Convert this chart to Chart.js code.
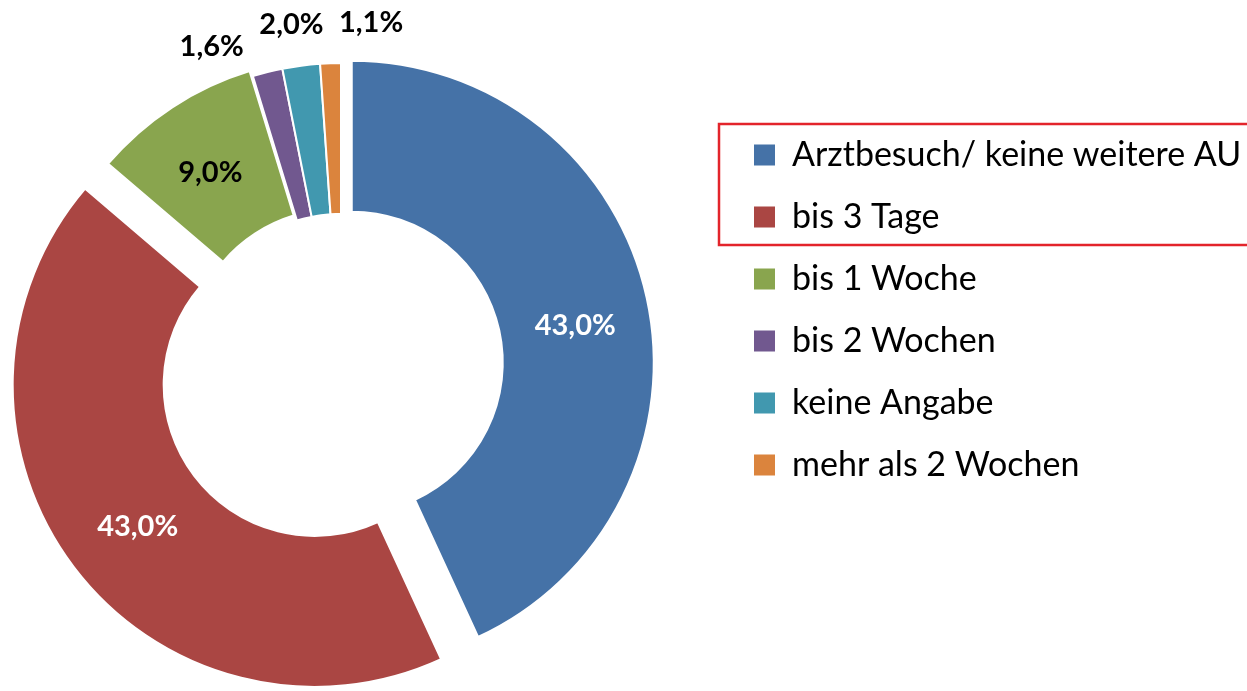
<!DOCTYPE html>
<html>
<head>
<meta charset="utf-8">
<script src="https://cdn.jsdelivr.net/npm/chart.js@4.4.0/dist/chart.umd.min.js"></script>
<style>
html, body { margin: 0; padding: 0; background: #fff; overflow: hidden; width: 1247px; height: 691px; }
#wrap { position: absolute; left: -44px; top: 0; width: 1291px; height: 691px; }
</style>
</head>
<body>
<div id="wrap"><canvas id="myChart" width="1291" height="691"></canvas></div>
<script>
const labels = ['Arztbesuch/ keine weitere AU', 'bis 3 Tage', 'bis 1 Woche', 'bis 2 Wochen', 'keine Angabe', 'mehr als 2 Wochen'];
const values = [43.0, 43.0, 9.0, 1.6, 2.0, 1.1];
const colors = ['#4572A7', '#AA4643', '#89A54E', '#71588F', '#4198AF', '#DB843D'];
const explode = [11, 33, 6, 0, 0, 0];          // px, pulled out slices
const labelColors = ['#fff', '#fff', '#000', '#000', '#000', '#000'];
const labelNudge = [3, -1.5, -1, -8, -0.7, 7];  // degrees

const fmt = v => v.toFixed(1).replace('.', ',') + '%';

// move exploded slices out along their middle angle
const explodePlugin = {
    id: 'explode',
    afterDatasetsUpdate(chart) {
        chart.getDatasetMeta(0).data.forEach((arc, i) => {
            const mid = (arc.startAngle + arc.endAngle) / 2;
            arc.x += Math.cos(mid) * explode[i];
            arc.y += Math.sin(mid) * explode[i];
        });
    }
};

const valueLabels = {
    id: 'valueLabels',
    afterDatasetsDraw(chart) {
        const ctx = chart.ctx;
        ctx.save();
        ctx.font = 'bold 29px Lato';
        ctx.textAlign = 'center';
        ctx.textBaseline = 'middle';
        chart.getDatasetMeta(0).data.forEach((arc, i) => {
            const a = (arc.startAngle + arc.endAngle) / 2 + labelNudge[i] * Math.PI / 180;
            const r = values[i] < 5 ? arc.outerRadius + 42 : (arc.innerRadius + arc.outerRadius) / 2;
            ctx.fillStyle = labelColors[i];
            ctx.fillText(fmt(values[i]), arc.x + Math.cos(a) * r, arc.y + Math.sin(a) * r);
        });
        ctx.restore();
    }
};

// red frame round the first two legend entries
const legendFrame = {
    id: 'legendFrame',
    afterDraw(chart) {
        const lg = chart.legend;
        const pad = lg.options.labels.padding;
        const top = lg.top + pad;
        const ctx = chart.ctx;
        ctx.save();
        ctx.strokeStyle = '#E3242B';
        ctx.lineWidth = 2.5;
        ctx.strokeRect(lg.left + pad - 35, top - 14, 700, 121);
        ctx.restore();
    }
};

const ctx = document.getElementById('myChart').getContext('2d');

// legend width so the chart area centre lands where the pie is
const legendSize = 34;
const legendPad = 28;
ctx.font = legendSize + 'px Lato';
const textW = Math.max(...labels.map(l => ctx.measureText(l).width));
const legendW = legendPad + 21 + legendSize / 2 + textW + 10;
const padRight = 1291 - 770 - legendW;

new Chart(ctx, {
    type: 'doughnut',
    data: {
        labels: labels,
        datasets: [{
            data: values,
            backgroundColor: colors,
            borderColor: '#fff',
            borderWidth: 2
        }]
    },
    options: {
        responsive: false,
        animation: false,
        devicePixelRatio: 1,
        radius: 302,
        cutout: '50%',
        layout: { padding: { top: 110, bottom: 71, left: 0, right: padRight } },
        plugins: {
            tooltip: { enabled: false },
            legend: {
                position: 'right',
                align: 'start',
                labels: {
                    boxWidth: 21,
                    boxHeight: 21,
                    padding: legendPad,
                    color: '#000',
                    font: { family: 'Lato', size: legendSize },
                    generateLabels: (chart) => Chart.overrides.doughnut.plugins.legend.labels.generateLabels(chart)
                        .map(item => Object.assign(item, { lineWidth: 0 }))
                }
            }
        }
    },
    plugins: [explodePlugin, valueLabels, legendFrame]
});
</script>
</body>
</html>
